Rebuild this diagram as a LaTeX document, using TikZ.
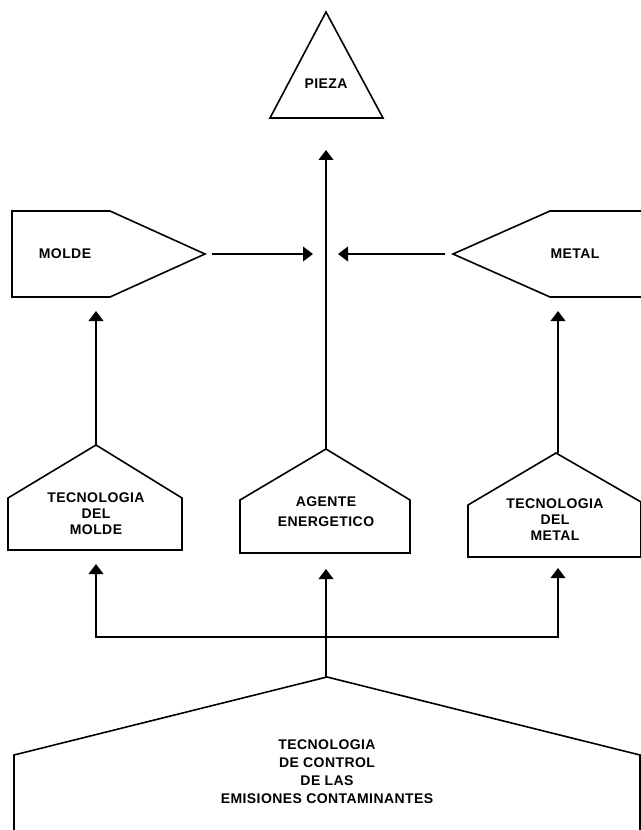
\documentclass[tikz,border=0pt]{standalone}
\usepackage{fontspec}
\newfontfamily\lblfont[LetterSpace=3.0]{Liberation Sans Bold}
\usepackage{tikz}
\usetikzlibrary{arrows.meta, positioning, calc}

\begin{document}
\begin{tikzpicture}[
  x=0.75pt, y=-0.75pt,
  outline/.style={draw, line width=1.2pt, line join=miter},
  lbl/.style={font=\lblfont\fontsize{10.5}{12}\selectfont, align=center, inner sep=0pt},
  arr/.style={-{Triangle[length=7.5pt,width=11pt]}, line width=1.2pt}
]
  \useasboundingbox (0,0) rectangle (641,830);

  % pieza
  \draw[outline] (326,12) -- (383,118) -- (270,118) -- cycle;
  \node[lbl] (pieza) at (326,84) {PIEZA};
  \coordinate (piezaIn) at (326,150);

  % molde / metal
  \draw[outline] (12,211) -- (110,211) -- (205,254) -- (110,297) -- (12,297) -- cycle;
  \node[lbl] (molde) at (65,254) {MOLDE};
  \coordinate (moldeOut) at (212,254);
  \coordinate (moldeIn) at (96,311);

  \draw[outline] (645,211) -- (550,211) -- (453,254) -- (550,297) -- (645,297);
  \node[lbl] (metal) at (575,254) {METAL};
  \coordinate (metalOut) at (445,254);
  \coordinate (metalIn) at (558,311);

  \coordinate (joinL) at (313,254);
  \coordinate (joinR) at (338,254);

  % tecnologias y agente
  \draw[outline] (96,445) -- (182,498) -- (182,550) -- (8,550) -- (8,498) -- cycle;
  \node[lbl] (tecMolde) at (96,514) {TECNOLOGIA\\DEL\\MOLDE};
  \coordinate (tecMoldeTop) at (96,445);
  \coordinate (tecMoldeIn) at (96,564);

  \draw[outline] (326,449) -- (410,500) -- (410,553) -- (240,553) -- (240,500) -- cycle;
  \node[lbl] (agente) at (326,512) {AGENTE\\[3pt]ENERGETICO};
  \coordinate (agenteTop) at (326,449);
  \coordinate (agenteIn) at (326,569);

  \draw[outline] (556,453) -- (641,502) -- (641,557) -- (468,557) -- (468,505) -- cycle;
  \node[lbl] (tecMetal) at (555,520) {TECNOLOGIA\\DEL\\METAL};
  \coordinate (tecMetalTop) at (558,453);
  \coordinate (tecMetalIn) at (558,568);

  % control de emisiones
  \draw[outline] (14,835) -- (14,755) -- (327,677) -- (640,755) -- (640,835);
  \node[lbl, font=\lblfont\fontsize{10.5}{13.5}\selectfont] (control) at (327,772)
    {TECNOLOGIA\\DE CONTROL\\DE LAS\\EMISIONES CONTAMINANTES};
  \coordinate (controlTop) at (326,677);
  \coordinate (bus) at (326,637);

  \draw[arr] (moldeOut) -- (joinL);
  \draw[arr] (metalOut) -- (joinR);
  \draw[arr] (agenteTop) -- (piezaIn);
  \draw[arr] (tecMoldeTop) -- (moldeIn);
  \draw[arr] (tecMetalTop) -- (metalIn);
  \draw[arr] (controlTop) -- (agenteIn);
  \draw[arr] (bus) -| (tecMoldeIn);
  \draw[arr] (bus) -| (tecMetalIn);
\end{tikzpicture}
\end{document}
